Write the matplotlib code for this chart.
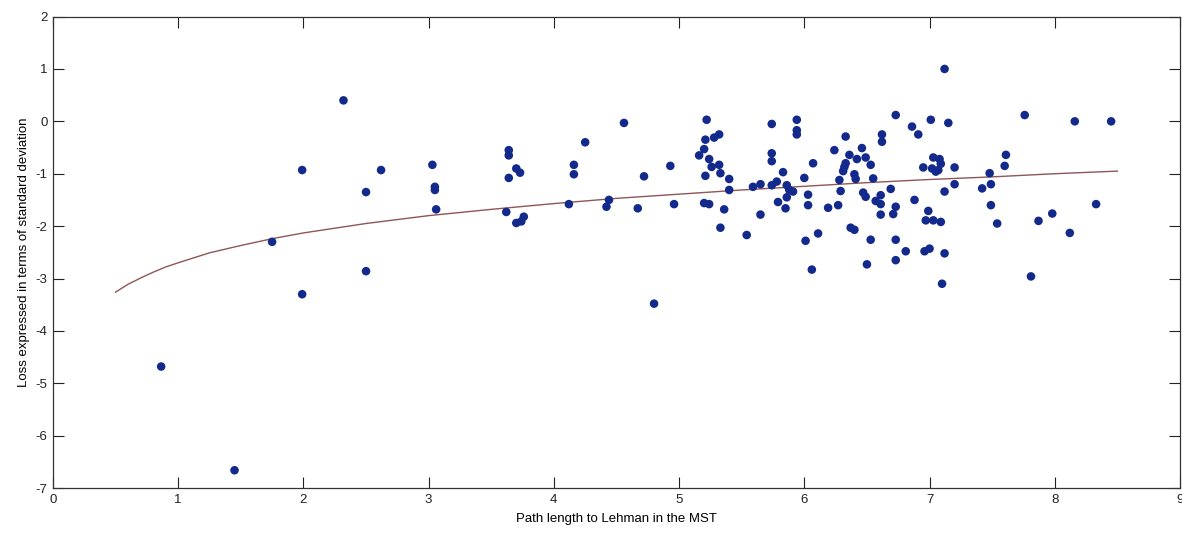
import matplotlib
matplotlib.use("Agg")
import matplotlib.pyplot as plt

path_length = [
    0.864, 1.45, 1.75, 1.99, 1.99, 2.32, 2.50, 2.50, 2.62, 3.03, 3.05, 3.05, 3.06,
    3.64, 3.64, 3.70, 3.73, 3.64, 3.62, 3.70, 3.74, 3.76, 4.16, 4.16, 4.25, 4.12,
    4.56, 4.42, 4.44, 4.72, 4.67, 4.80, 4.93, 4.96, 5.16,
    5.22, 5.21, 5.28, 5.32, 5.20, 5.24, 5.26, 5.32, 5.33, 5.21, 5.40, 5.40, 5.20,
    5.24, 5.36, 5.33, 5.54, 5.59, 5.65, 5.65, 5.74, 5.74, 5.74, 5.74, 5.78, 5.83,
    5.86, 5.88, 5.79, 5.86, 5.85, 5.91, 5.94, 5.94, 5.94, 6.00, 6.07, 6.03, 6.03,
    6.01, 6.06, 6.11, 6.19, 6.27, 6.24, 6.28, 6.29, 6.31, 6.32, 6.33, 6.33, 6.36,
    6.37, 6.40, 6.40, 6.41, 6.42, 6.46, 6.47, 6.49, 6.49, 6.50, 6.53, 6.53, 6.55,
    6.57, 6.61, 6.61, 6.61, 6.62, 6.62, 6.69, 6.71, 6.73, 6.73, 6.73, 6.73, 6.81,
    6.86, 6.88, 6.91, 6.95, 6.96, 6.97, 6.99, 7.00, 7.01, 7.02, 7.03, 7.03, 7.05,
    7.07, 7.08, 7.09, 7.09, 7.10, 7.12, 7.12, 7.12, 7.15, 7.20, 7.20, 7.42, 7.48,
    7.49, 7.49, 7.54, 7.60, 7.61, 7.76, 7.81, 7.87, 7.98, 8.12, 8.16, 8.33, 8.45,
]
loss_sd = [
    -4.68, -6.66, -2.30, -0.93, -3.30, 0.40, -1.35, -2.86, -0.93, -0.83, -1.25, -1.31, -1.68,
    -0.55, -0.65, -0.90, -0.98, -1.08, -1.73, -1.94, -1.91, -1.82, -0.83, -1.01, -0.40, -1.58,
    -0.03, -1.63, -1.50, -1.05, -1.66, -3.48, -0.85, -1.58, -0.65,
    0.03, -0.35, -0.31, -0.25, -0.53, -0.72, -0.87, -0.83, -0.99, -1.04, -1.10, -1.31, -1.56,
    -1.58, -1.68, -2.03, -2.17, -1.25, -1.20, -1.78, -0.05, -0.61, -0.76, -1.22, -1.15, -0.97,
    -1.22, -1.31, -1.54, -1.45, -1.66, -1.34, 0.03, -0.17, -0.25, -1.08, -0.80, -1.40, -1.60,
    -2.28, -2.83, -2.14, -1.65, -1.60, -0.55, -1.12, -1.33, -0.95, -0.87, -0.80, -0.29, -0.64,
    -2.03, -2.07, -1.01, -1.10, -0.72, -0.51, -1.36, -1.44, -0.69, -2.73, -0.83, -2.26, -1.09,
    -1.52, -1.41, -1.58, -1.78, -0.25, -0.39, -1.29, -1.77, 0.12, -1.63, -2.26, -2.65, -2.48,
    -0.10, -1.50, -0.25, -0.88, -2.48, -1.89, -1.71, -2.43, 0.03, -0.90, -0.69, -1.89, -0.96,
    -0.93, -0.72, -0.81, -1.92, -3.10, 1.00, -1.34, -2.52, -0.03, -0.88, -1.20, -1.28, -0.99,
    -1.20, -1.60, -1.95, -0.85, -0.64, 0.12, -2.96, -1.90, -1.76, -2.13, 0.00, -1.58, 0.00,
]

fit_x = [0.5, 0.6, 0.7, 0.8, 0.9, 1.0, 1.25, 1.5, 1.75, 2.0, 2.5, 3.0, 3.5, 4.0, 4.5,
         5.0, 5.5, 6.0, 6.5, 7.0, 7.5, 8.0, 8.5]
fit_y = [-3.26, -3.11, -2.99, -2.88, -2.78, -2.70, -2.51, -2.37, -2.24, -2.13, -1.95,
         -1.80, -1.68, -1.57, -1.47, -1.39, -1.31, -1.24, -1.17, -1.11, -1.06, -1.00, -0.95]

x_ticks = [0, 1, 2, 3, 4, 5, 6, 7, 8, 9]
y_ticks = [-7, -6, -5, -4, -3, -2, -1, 0, 1, 2]

plt.rcParams['font.family'] = ['Liberation Sans', 'DejaVu Sans']
plt.rcParams['axes.unicode_minus'] = False

fig = plt.figure(figsize=(11.82, 5.34), dpi=100)
ax = fig.add_axes([0.0448, 0.086, 0.9535, 0.883])

ax.plot(fit_x, fit_y, color='#8e5656', lw=1.0, zorder=2)
ax.scatter(path_length, loss_sd, s=38, color='#13298b', edgecolors='none', zorder=3)

ax.set_xlim(0, 9)
ax.set_ylim(-7, 2)
ax.set_xticks(x_ticks)
ax.set_yticks(y_ticks)
ax.tick_params(direction='in', length=8, width=0.8, top=True, right=True,
               labelsize=9.5, colors='#222222', pad=4)
for s in ax.spines.values():
    s.set_linewidth(0.9)
    s.set_color('#333333')

ax.set_xlabel('Path length to Lehman in the MST', fontsize=9.5, labelpad=5)
ax.set_ylabel('Loss expressed in terms of standard deviation', fontsize=9.5, labelpad=4)

fig.savefig('out.png', dpi=100)
